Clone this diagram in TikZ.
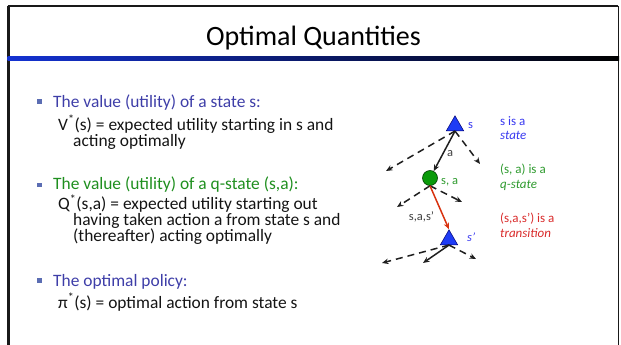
\documentclass[tikz,border=0pt]{standalone}
\usepackage{fontspec}
\setmainfont{Carlito}
\usetikzlibrary{arrows.meta, shapes.geometric}
\definecolor{sepblue}{HTML}{1432D2}
\definecolor{headblue}{HTML}{3E3EA8}
\definecolor{headgreen}{HTML}{1F8F1F}
\definecolor{bulletblue}{HTML}{5B6DB3}
\definecolor{stateblue}{HTML}{1E3CF5}
\definecolor{lblblue}{HTML}{3838F0}
\definecolor{lblgreen}{HTML}{2E9A2E}
\definecolor{lblred}{HTML}{D92B2B}
\definecolor{qgreen}{HTML}{0A9A0A}
\definecolor{transred}{HTML}{D8320F}

\begin{document}
\begin{tikzpicture}[
  x=1pt, y=-1pt,
  body/.style={anchor=base west, inner sep=0pt, font=\fontsize{17.4}{16}\selectfont, text=black!92},
  head/.style={body, text=headblue},
  bul/.style={rectangle, fill=bulletblue, minimum size=4.6pt, inner sep=0pt},
  lbl/.style={anchor=base west, inner sep=0pt, font=\fontsize{13}{15}\selectfont},
  tag/.style={inner sep=0pt, font=\fontsize{12.5}{14}\selectfont, text=black!75},
  state/.style={regular polygon, regular polygon sides=3, minimum size=20pt, inner sep=0pt,
                fill=stateblue, draw=blue!45!black, line width=0.5pt},
  qstate/.style={circle, minimum size=15pt, inner sep=0pt, fill=qgreen, draw=green!25!black, line width=0.6pt},
  arrow/.style={-{Stealth[length=6.5pt, width=5.5pt]}, line width=1.5pt, black!88},
  ghost/.style={arrow, dash pattern=on 7pt off 5pt},
]
  \useasboundingbox (0,0) rectangle (621,345);

  % slide frame
  \draw[line width=2.5pt, black!90] (8.7,345) -- (8.7,6);
  \draw[line width=2pt, black!90] (7.5,6) -- (618.3,6);
  \draw[line width=1.5pt, black!90] (618.3,6) -- (618.3,345);
  \shade[left color=sepblue, middle color=sepblue, right color=black] (7.5,57) rectangle (619,61);

  \node[font=\fontsize{28}{30}\selectfont, anchor=base, inner sep=0pt] (title) at (313.5,46) {Optimal Quantities};

  % bullets
  \node[bul] (b1) at (39.5,101.7) {};
  \node[head] (h1) at (53,107) {The value (utility) of a state s:};
  \node[body] (v1) at (58,130) {V\textsuperscript{*}(s) = expected utility starting in s and};
  \node[body] (v2) at (73,146.5) {acting optimally};

  \node[bul] (b2) at (39.5,185) {};
  \node[head, text=headgreen] (h2) at (53,189.5) {The value (utility) of a q-state (s,a):};
  \node[body] (q1) at (58,209.5) {Q\textsuperscript{*}(s,a) = expected utility starting out};
  \node[body] (q2) at (73,225.5) {having taken action a from state s and};
  \node[body] (q3) at (73,241.5) {(thereafter) acting optimally};

  \node[bul] (b3) at (39.5,280.5) {};
  \node[head] (h3) at (53,286.5) {The optimal policy:};
  \node[body] (p1) at (58,308) {π\textsuperscript{*}(s) = optimal action from state s};

  % expectimax tree
  \node[state] (s0) at (455,125.8) {};
  \node[qstate] (q) at (430,178) {};
  \node[state] (s1) at (449,239.8) {};
  \coordinate (s0l) at (386,171);
  \coordinate (s0r) at (480,164);
  \coordinate (ql) at (397,207);
  \coordinate (qr) at (462,202);
  \coordinate (s1l) at (382,263);
  \coordinate (s1m) at (423,263);
  \coordinate (s1r) at (476,259);

  \draw[ghost] (s0.south) -- (s0l);
  \draw[ghost] (s0.south) -- (s0r);
  \draw[arrow] (s0.south) -- (q);
  \draw[ghost] (q.south) -- (ql);
  \draw[ghost] (q.south) -- (qr);
  \draw[arrow, transred] (q.south) -- (s1.north);
  \draw[ghost] (s1.south) -- (s1l);
  \draw[arrow] (s1.south) -- (s1m);
  \draw[ghost] (s1.south) -- (s1r);

  \node[tag, text=lblblue, anchor=west] (s0lab) at (468,126) {s};
  \node[tag] (alab) at (450,154) {a};
  \node[tag, text=lblgreen, anchor=west] (qlab) at (441,182) {s, a};
  \node[tag] (tlab) at (421.5,217) {s,a,s’};
  \node[tag, text=lblblue, anchor=west] (s1lab) at (467,237) {\itshape s’};

  \node[lbl, text=lblblue] (k1) at (500,125.5) {s is a};
  \node[lbl, text=lblblue] (k2) at (500,139.5) {\itshape state};
  \node[lbl, text=lblgreen] (k3) at (500,173.5) {(s, a) is a};
  \node[lbl, text=lblgreen] (k4) at (500,188.5) {\itshape q-state};
  \node[lbl, text=lblred] (k5) at (500,222) {(s,a,s’) is a};
  \node[lbl, text=lblred] (k6) at (500,237) {\itshape transition};
\end{tikzpicture}
\end{document}
